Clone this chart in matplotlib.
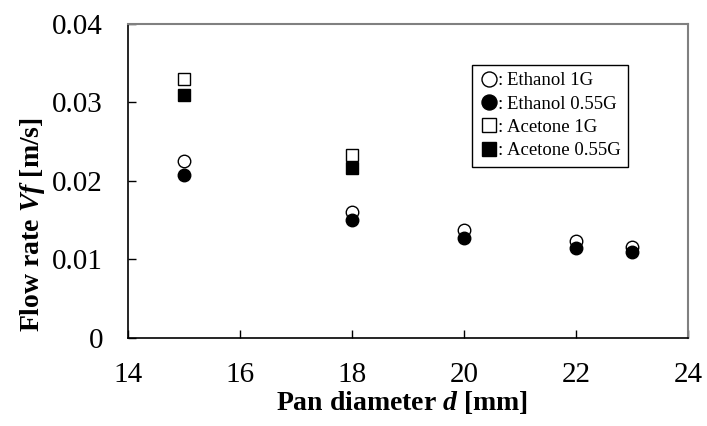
import numpy as np
import matplotlib.pyplot as plt

plt.rcParams['font.family'] = ['Liberation Serif', 'DejaVu Serif']
plt.rcParams['mathtext.fontset'] = 'custom'
plt.rcParams['mathtext.rm'] = 'Liberation Serif:bold'
plt.rcParams['mathtext.it'] = 'Liberation Serif:bold:italic'
plt.rcParams['mathtext.bf'] = 'Liberation Serif:bold'

# pan diameter [mm] and flow rate [m/s]
d_eth = [15, 18, 20, 22, 23]
eth_1g = [0.0225, 0.0161, 0.0137, 0.0123, 0.0116]
eth_055g = [0.0208, 0.0150, 0.0128, 0.0115, 0.0109]
d_ace = [15, 18]
ace_1g = [0.0330, 0.0233]
ace_055g = [0.0310, 0.0217]

fig = plt.figure(figsize=(7.07, 4.26), dpi=100)
ax = fig.add_axes([0.181, 0.2066, 0.792, 0.7371])

ms = 9
ax.plot(d_eth, eth_1g, 'o', ms=ms, mfc='white', mec='black', mew=1.0, label=':\u2009Ethanol 1G')
ax.plot(d_eth, eth_055g, 'o', ms=ms, mfc='black', mec='black', label=':\u2009Ethanol 0.55G')
ax.plot(d_ace, ace_1g, 's', ms=ms - 0.5, mfc='white', mec='black', mew=1.0, label=':\u2009Acetone 1G')
ax.plot(d_ace, ace_055g, 's', ms=ms - 0.5, mfc='black', mec='black', label=':\u2009Acetone 0.55G')

ax.set_xlim(14, 24)
ax.set_ylim(0, 0.04)
ax.set_xticks([14, 16, 18, 20, 22, 24])
ax.set_yticks([0, 0.01, 0.02, 0.03, 0.04])
ax.set_yticklabels(['0', '0.01', '0.02', '0.03', '0.04'])

ax.tick_params(direction='in', length=6, width=1.0, labelsize=21, pad=17)
ax.tick_params(axis='y', pad=18)
for s in ['left', 'bottom']:
    ax.spines[s].set_color('black')
    ax.spines[s].set_linewidth(1.2)
for s in ['top', 'right']:
    ax.spines[s].set_color('#808080')
    ax.spines[s].set_linewidth(1.5)

ax.set_xlabel('Pan diameter $d$ [mm]', fontsize=20, fontweight='bold')
ax.set_ylabel('Flow rate $Vf$ [m/s]', fontsize=20, fontweight='bold')
ax.xaxis.set_label_coords(0.489, -0.162)
ax.yaxis.set_label_coords(-0.145, 0.36)

leg = ax.legend(loc='upper left', bbox_to_anchor=(0.614, 0.87), fontsize=13.5,
                handletextpad=0.0, handlelength=1.0, borderpad=0.4, borderaxespad=0,
                labelspacing=0.33, fancybox=False, framealpha=1, edgecolor='black',
                markerscale=1.2)
leg.get_frame().set_linewidth(1.0)

fig.savefig('out.png', dpi=100)
